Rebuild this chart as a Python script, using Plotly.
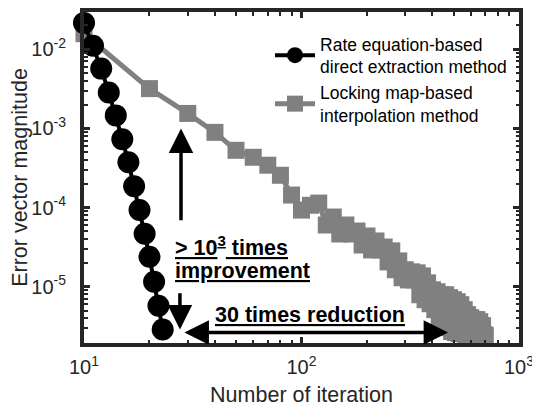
import plotly.graph_objects as go

# ---------------- data ----------------
rate_iter = [10, 11, 12, 13, 14, 15, 16, 17, 18, 19, 20, 21, 22, 23]
rate_evm = [2.15e-2, 1.107e-2, 5.69e-3, 2.84e-3, 1.46e-3, 7.28e-4, 3.73e-4,
            1.86e-4, 9.3e-5, 4.67e-5, 2.40e-5, 1.16e-5, 5.77e-6, 2.88e-6]

lock_iter = [10, 20, 30, 40, 50, 60, 70, 80, 90, 100,
             110, 120, 130, 140, 150, 160, 170, 180, 190, 200,
             210, 220, 230, 240, 250, 260, 270, 280, 290, 300,
             310, 320, 330, 340, 350, 360, 370, 380, 390, 400,
             410, 420, 430, 440, 450, 460, 470, 480, 490, 500,
             510, 520, 530, 540, 550, 560, 570, 580, 590, 600,
             610, 620, 630, 640, 650, 660, 670, 680, 690, 700]
lock_evm = [1.57e-2, 3.18e-3, 1.545e-3, 8.91e-4, 5.29e-4, 4.32e-4, 3.43e-4, 2.56e-4, 1.44e-4, 9.30e-5,
            1.07e-4, 1.14e-4, 6.03e-5, 7.60e-5, 4.64e-5, 6.03e-5, 4.64e-5, 5.06e-5, 3.37e-5, 4.38e-5,
            2.92e-5, 3.79e-5, 2.92e-5, 3.18e-5, 2.06e-5, 2.84e-5, 1.64e-5, 2.12e-5, 1.30e-5, 1.64e-5,
            1.22e-5, 1.545e-5, 1.22e-5, 1.50e-5, 7.93e-6, 1.37e-5, 6.86e-6, 1.12e-5, 6.11e-6, 9.17e-6,
            5.14e-6, 8.65e-6, 4.07e-6, 7.93e-6, 3.85e-6, 7.93e-6, 3.05e-6, 7.28e-6, 2.72e-6, 6.86e-6,
            2.64e-6, 6.48e-6, 2.56e-6, 5.94e-6, 2.56e-6, 5.14e-6, 2.49e-6, 4.45e-6, 2.49e-6, 4.07e-6,
            2.49e-6, 3.85e-6, 2.49e-6, 3.85e-6, 2.49e-6, 3.63e-6, 2.49e-6, 3.23e-6, 2.49e-6, 2.42e-6]

x_tickvals = [10, 100, 1000]
x_ticktext = ["10<sup>1</sup>", "10<sup>2</sup>", "10<sup>3</sup>"]
y_tickvals = [1e-5, 1e-4, 1e-3, 1e-2]
y_ticktext = ["10<sup>-5</sup>", "10<sup>-4</sup>", "10<sup>-3</sup>", "10<sup>-2</sup>"]

FONT = "Liberation Sans, Arial, sans-serif"
AX = "#262626"
GRAY = "#808080"

fig = go.Figure()
fig.add_trace(go.Scatter(
    x=lock_iter, y=lock_evm, mode="lines+markers",
    name="Locking map-based<br>interpolation method",
    line=dict(color=GRAY, width=5),
    marker=dict(symbol="square", size=17, color=GRAY, line=dict(width=0)),
    cliponaxis=False, legendrank=2,
))
fig.add_trace(go.Scatter(
    x=rate_iter, y=rate_evm, mode="lines+markers",
    name="Rate equation-based<br>direct extraction method",
    line=dict(color="black", width=4),
    marker=dict(symbol="circle", size=22, color="black", line=dict(width=0)),
    cliponaxis=False, legendrank=1,
))

axis_common = dict(
    showline=True, linewidth=4, linecolor=AX, mirror="allticks",
    ticks="inside", ticklen=6, tickwidth=2.5, tickcolor=AX,
    showgrid=False, zeroline=False, automargin=False,
    tickfont=dict(size=20, family=FONT, color=AX),
    minor=dict(ticks="inside", ticklen=3.5, tickwidth=2, tickcolor=AX, dtick="D1", showgrid=False),
)

fig.update_xaxes(type="log", range=[1, 3], tickmode="array",
                 tickvals=x_tickvals, ticktext=x_ticktext, ticklabelstandoff=3,
                 title=dict(text="Number of iteration", font=dict(size=21.5, family=FONT, color=AX), standoff=11),
                 **axis_common)
fig.update_yaxes(type="log", range=[-5.71, -1.53], tickmode="array",
                 tickvals=y_tickvals, ticktext=y_ticktext, ticklabelstandoff=10,
                 title=dict(text="Error vector magnitude", font=dict(size=21.5, family=FONT, color=AX), standoff=6),
                 **axis_common)

ann_font = dict(size=21.5, family=FONT, color="black")
annotations = [
    # upward arrow
    dict(x=1.446, y=-3.0, ax=1.446, ay=-4.18, xref="x", yref="y", axref="x", ayref="y",
         showarrow=True, arrowhead=2, arrowsize=1.4, arrowwidth=3.5, arrowcolor="black", text=""),
    # downward arrow
    dict(x=1.441, y=-5.541, ax=1.441, ay=-5.063, xref="x", yref="y", axref="x", ayref="y",
         showarrow=True, arrowhead=2, arrowsize=1.4, arrowwidth=3.5, arrowcolor="black", text=""),
    # horizontal double arrow
    dict(x=2.674, y=-5.578, ax=1.455, ay=-5.578, xref="x", yref="y", axref="x", ayref="y",
         showarrow=True, arrowhead=2, startarrowhead=2, arrowside="end+start",
         arrowsize=1.4, startarrowsize=1.4, arrowwidth=3.5, arrowcolor="black", text=""),
    dict(x=1.409, y=-4.48, xref="x", yref="y", xanchor="left", yanchor="middle", showarrow=False,
         text="<b><u>&gt; 10<sup>3</sup> times</u></b>", font=ann_font),
    dict(x=1.409, y=-4.80, xref="x", yref="y", xanchor="left", yanchor="middle", showarrow=False,
         text="<b><u>improvement</u></b>", font=ann_font),
    dict(x=1.593, y=-5.352, xref="x", yref="y", xanchor="left", yanchor="middle", showarrow=False,
         text="<b><u>30 times reduction</u></b>", font=ann_font),
]

# The page body has an 8px default margin, so the figure is offset by (8, 8)
fig.update_layout(
    width=540, height=407,
    margin=dict(l=76, r=29, t=4, b=72, autoexpand=False),
    paper_bgcolor="white", plot_bgcolor="white",
    font=dict(family=FONT, color="black"),
    showlegend=True,
    legend=dict(x=0.4276, y=0.958, xanchor="left", yanchor="top", bgcolor="rgba(0,0,0,0)",
                font=dict(size=17.5, family=FONT, color="black"), itemwidth=40,
                traceorder="normal"),
    annotations=annotations,
)

fig.write_html("out.html")
